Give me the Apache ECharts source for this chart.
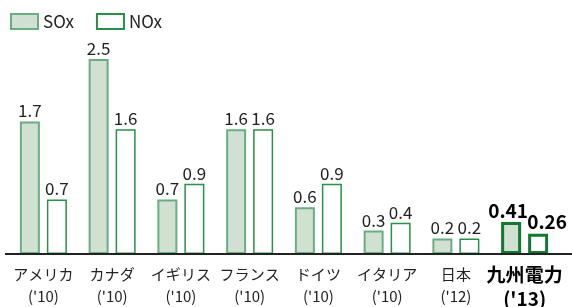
<!DOCTYPE html>
<html>
<head>
<meta charset="utf-8">
<script src="https://cdn.jsdelivr.net/npm/echarts@6/dist/echarts.min.js"></script>
<style>
  html, body { margin: 0; padding: 0; background: #fff; }
  #main { width: 572px; height: 307px; }
</style>
</head>
<body>
<div id="main"></div>
<script>
"use strict";
var countries = ["アメリカ", "カナダ", "イギリス", "フランス", "ドイツ", "イタリア", "日本", "九州電力"];
var years = ["('10)", "('10)", "('10)", "('10)", "('10)", "('10)", "('12)", "('13)"];
var soxValues = [1.7, 2.5, 0.7, 1.6, 0.6, 0.3, 0.2, 0.41];
var noxValues = [0.7, 1.6, 0.9, 1.6, 0.9, 0.4, 0.2, 0.26];
var highlightIndex = 7;

var font = "'Noto Sans CJK JP', 'Noto Sans', sans-serif";
var chartDom = document.getElementById("main");
var myChart = echarts.init(chartDom);

function buildData(values, labelShift) {
  return values.map(function (v, i) {
    if (i !== highlightIndex) return v;
    return {
      value: v,
      itemStyle: { borderColor: "#117a31", borderWidth: 3 },
      label: { fontWeight: "bold", fontSize: 19, color: "#000", offset: [labelShift, 0] },
    };
  });
}

var valueLabel = {
  show: true,
  position: "top",
  distance: 2,
  fontFamily: font,
  fontSize: 17,
  color: "#222",
};

var option = {
  animation: false,
  grid: { left: 9, right: 13, top: 20, bottom: 53, outerBoundsMode: "none", containLabel: false },
  legend: {
    left: 10,
    top: 13,
    padding: 0,
    itemWidth: 27,
    itemHeight: 15,
    itemGap: 22,
    icon: "rect",
    textStyle: { fontFamily: font, fontSize: 17, color: "#222" },
    data: ["SOx", "NOx"],
  },
  xAxis: {
    type: "category",
    data: countries,
    axisTick: { show: false },
    axisLine: { lineStyle: { color: "#222", width: 2 } },
    axisLabel: {
      margin: 9,
      interval: 0,
      fontFamily: font,
      fontSize: 15,
      color: "#222",
      lineHeight: 22,
      formatter: function (value, idx) {
        if (idx === highlightIndex) {
          return "{b|" + value + "}\n{b|" + years[idx] + "}";
        }
        return value + "\n" + years[idx];
      },
      rich: {
        b: { fontFamily: font, fontSize: 19, fontWeight: "bold", color: "#000", lineHeight: 24 },
      },
    },
  },
  yAxis: {
    type: "value",
    min: 0,
    max: 3,
    show: false,
    splitLine: { show: false },
  },
  series: [
    {
      name: "SOx",
      type: "bar",
      barWidth: 20,
      barGap: "35%",
      data: buildData(soxValues, -3),
      itemStyle: { color: "#d0e1d2", borderColor: "#6aad82", borderWidth: 2 },
      label: valueLabel,
    },
    {
      name: "NOx",
      type: "bar",
      barWidth: 20,
      data: buildData(noxValues, 9),
      itemStyle: { color: "#ffffff", borderColor: "#2a8f48", borderWidth: 1.5 },
      label: valueLabel,
    },
  ],
};

myChart.setOption(option);

// axis line runs across the full width in the original
var baseY = myChart.convertToPixel({ yAxisIndex: 0 }, 0);
myChart.setOption({
  graphic: [
    {
      type: "line",
      shape: { x1: 5, y1: baseY, x2: 572, y2: baseY },
      style: { stroke: "#222", lineWidth: 2 },
      z: 10,
    },
  ],
});
</script>
</body>
</html>
